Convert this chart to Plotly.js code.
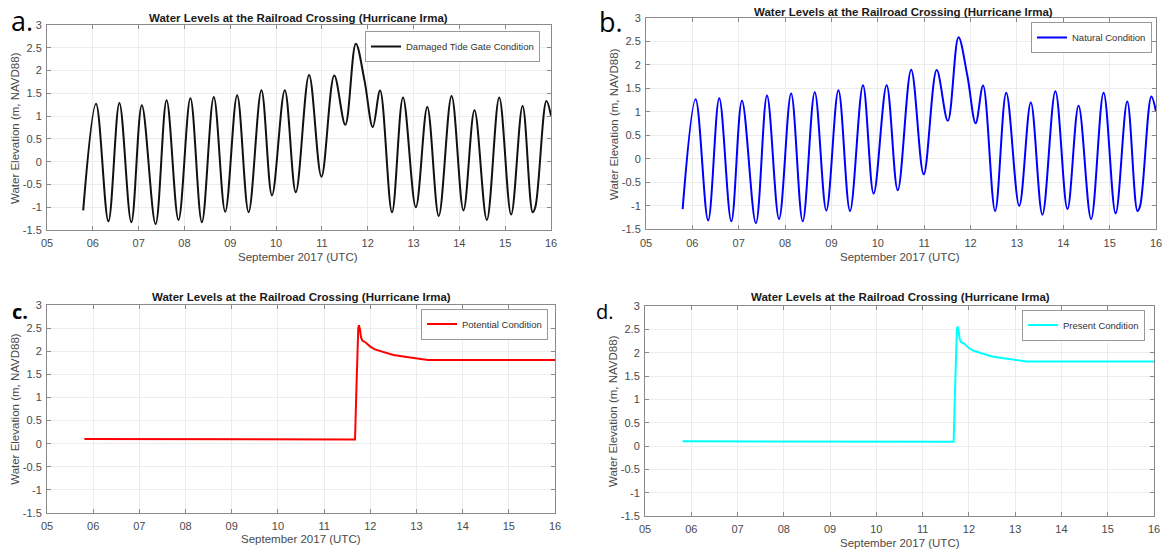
<!DOCTYPE html>
<html><head><meta charset="utf-8">
<script src="https://cdn.plot.ly/plotly-3.0.1.min.js"></script>
<style>html,body{margin:0;padding:0;background:#fff}#chart{width:1167px;height:552px}</style>
</head><body><div id="chart"></div>
<script>
// ---------- data ----------
const chartTitle = 'Water Levels at the Railroad Crossing (Hurricane Irma)';
const xAxisTitle = 'September 2017 (UTC)';
const yAxisTitle = 'Water Elevation (m, NAVD88)';
const xTickVals = [5, 6, 7, 8, 9, 10, 11, 12, 13, 14, 15, 16];
const xTickText = ['05', '06', '07', '08', '09', '10', '11', '12', '13', '14', '15', '16'];
const yTickVals = [-1.5, -1, -0.5, 0, 0.5, 1, 1.5, 2, 2.5, 3];
const yTickText = ['-1.5', '-1', '-0.5', '0', '0.5', '1', '1.5', '2', '2.5', '3'];

// tidal series (day of September 2017), read at the turning points
const tideDay = [5.79, 6.07, 6.34, 6.58, 6.84, 7.07, 7.37, 7.61, 7.87, 8.13, 8.38, 8.64, 8.89, 9.15, 9.40, 9.68, 9.91, 10.19, 10.43, 10.72, 10.99, 11.27, 11.51, 11.74, 11.93, 12.11, 12.27, 12.53, 12.77, 13.05, 13.30, 13.55, 13.83, 14.09, 14.33, 14.60, 14.87, 15.13, 15.38, 15.60, 15.66, 15.90, 16.0];
const damagedLevel = [-1.07, 1.27, -1.31, 1.29, -1.33, 1.24, -1.37, 1.35, -1.28, 1.39, -1.33, 1.42, -1.10, 1.46, -1.11, 1.57, -0.74, 1.57, -0.67, 1.90, -0.33, 1.89, 0.81, 2.59, 1.78, 0.76, 1.56, -1.11, 1.41, -1.00, 1.20, -1.19, 1.44, -1.07, 1.13, -1.28, 1.41, -1.16, 1.22, -1.11, -0.99, 1.33, 1.01];
const naturalLevel = [-1.07, 1.27, -1.31, 1.29, -1.33, 1.24, -1.37, 1.35, -1.28, 1.39, -1.33, 1.42, -1.10, 1.46, -1.11, 1.57, -0.74, 1.57, -0.67, 1.90, -0.33, 1.89, 0.81, 2.59, 1.78, 0.76, 1.56, -1.11, 1.41, -1.00, 1.20, -1.19, 1.44, -1.07, 1.13, -1.28, 1.41, -1.16, 1.22, -1.11, -0.99, 1.33, 1.01];

// closed-gate series
const surgeDay = [5.81, 10.5, 11.3, 11.67, 11.70, 11.72, 11.74, 11.755, 11.775, 11.80, 11.83, 11.90, 12.00, 12.10, 12.25, 12.50, 12.75, 13.00, 13.25, 16.0];
const potentialLevel = [0.10, 0.10, 0.09, 0.09, 1.20, 2.20, 2.50, 2.56, 2.48, 2.30, 2.23, 2.19, 2.10, 2.04, 1.99, 1.92, 1.88, 1.85, 1.81, 1.81];
const presentLevel = [0.10, 0.10, 0.09, 0.09, 1.20, 2.20, 2.50, 2.56, 2.48, 2.30, 2.23, 2.19, 2.10, 2.04, 1.99, 1.92, 1.88, 1.85, 1.81, 1.81];

const seriesNames = ['Damaged Tide Gate Condition', 'Natural Condition', 'Potential Condition', 'Present Condition'];
const panelLabels = ['a.', 'b.', 'c.', 'd.'];

// ---------- layout (pixels) ----------
const W = 1167, H = 552;
const FONT = 'Liberation Sans, Arial, sans-serif';
const panels = [
  {x: tideDay, y: damagedLevel, color: '#111111', shape: 'spline',
   box: [47, 551, 25, 230], title: [298, 18.3], ytitle: [15, 128], xtitle: [298, 257],
   legend: [540, 31], lab: [22, 20], labSize: 27, labBold: false},
  {x: tideDay, y: naturalLevel, color: '#0000ff', shape: 'spline',
   box: [646, 1156, 18, 229.3], title: [903, 11.7], ytitle: [614, 124], xtitle: [900, 256.7],
   legend: [1152, 22], lab: [611, 22], labSize: 27, labBold: false},
  {x: surgeDay, y: potentialLevel, color: '#ff0000', shape: 'linear',
   box: [47, 555, 305, 513], title: [301, 296.7], ytitle: [15, 408.8], xtitle: [301, 539.3],
   legend: [548, 308.5], lab: [20, 311], labSize: 20, labBold: true},
  {x: surgeDay, y: presentLevel, color: '#00ffff', shape: 'linear',
   box: [645, 1154, 306, 516], title: [900, 297.3], ytitle: [613, 411], xtitle: [900, 543.3],
   legend: [1145, 309.5], lab: [605, 311], labSize: 20, labBold: false}
];

const px = v => v / W, py = v => 1 - v / H;
const data = [], annotations = [];
const layout = {
  width: W, height: H, autosize: false,
  margin: {l: 0, r: 0, t: 0, b: 0},
  paper_bgcolor: '#ffffff', plot_bgcolor: '#ffffff',
  font: {family: FONT, color: '#4a4a4a'},
  showlegend: true
};

panels.forEach((p, i) => {
  const n = i === 0 ? '' : String(i + 1);
  const legendKey = 'legend' + n;
  data.push({
    type: 'scatter', mode: 'lines', x: p.x, y: p.y, name: seriesNames[i],
    xaxis: 'x' + n, yaxis: 'y' + n, legend: legendKey,
    line: {color: p.color, width: 2, shape: p.shape, smoothing: 1}
  });
  const common = {
    showline: true, linecolor: '#8a8a8a', linewidth: 1, mirror: 'allticks',
    ticks: 'inside', ticklen: 4, tickcolor: '#8a8a8a', tickwidth: 1,
    showgrid: true, gridcolor: '#ececec', gridwidth: 1, zeroline: false,
    tickfont: {family: FONT, size: 11, color: '#4a4a4a'}, tickmode: 'array', fixedrange: true
  };
  layout['xaxis' + n] = Object.assign({}, common, {
    domain: [px(p.box[0]), px(p.box[1])], anchor: 'y' + n, range: [5, 16],
    tickvals: xTickVals, ticktext: xTickText, ticklabelstandoff: 3
  });
  layout['yaxis' + n] = Object.assign({}, common, {
    domain: [py(p.box[3]), py(p.box[2])], anchor: 'x' + n, range: [-1.5, 3],
    tickvals: yTickVals, ticktext: yTickText, ticklabelstandoff: 2
  });
  layout[legendKey] = {
    x: px(p.legend[0]), y: py(p.legend[1]), xanchor: 'right', yanchor: 'top',
    bgcolor: '#ffffff', bordercolor: '#9a9a9a', borderwidth: 1,
    font: {family: FONT, size: 9.5, color: '#333333'}, itemwidth: 30,
    tracegroupgap: 0
  };
  annotations.push({
    text: '<b>' + chartTitle + '</b>', xref: 'paper', yref: 'paper',
    x: px(p.title[0]), y: py(p.title[1]), xanchor: 'center', yanchor: 'middle',
    showarrow: false, font: {family: FONT, size: 11.5, color: '#1a1a1a'}
  });
  annotations.push({
    text: xAxisTitle, xref: 'paper', yref: 'paper',
    x: px(p.xtitle[0]), y: py(p.xtitle[1]), xanchor: 'center', yanchor: 'middle',
    showarrow: false, font: {family: FONT, size: 11.5, color: '#4a4a4a'}
  });
  annotations.push({
    text: yAxisTitle, xref: 'paper', yref: 'paper', textangle: -90,
    x: px(p.ytitle[0]), y: py(p.ytitle[1]), xanchor: 'center', yanchor: 'middle',
    showarrow: false, font: {family: FONT, size: 11.5, color: '#4a4a4a'}
  });
  annotations.push({
    text: p.labBold ? '<b>' + panelLabels[i] + '</b>' : panelLabels[i],
    xref: 'paper', yref: 'paper',
    x: px(p.lab[0]), y: py(p.lab[1]), xanchor: 'center', yanchor: 'middle',
    showarrow: false, font: {family: 'Open Sans, sans-serif', size: p.labSize, color: '#000000'}
  });
});
layout.annotations = annotations;

Plotly.newPlot('chart', data, layout, {staticPlot: true, displayModeBar: false});
</script>
</body></html>
